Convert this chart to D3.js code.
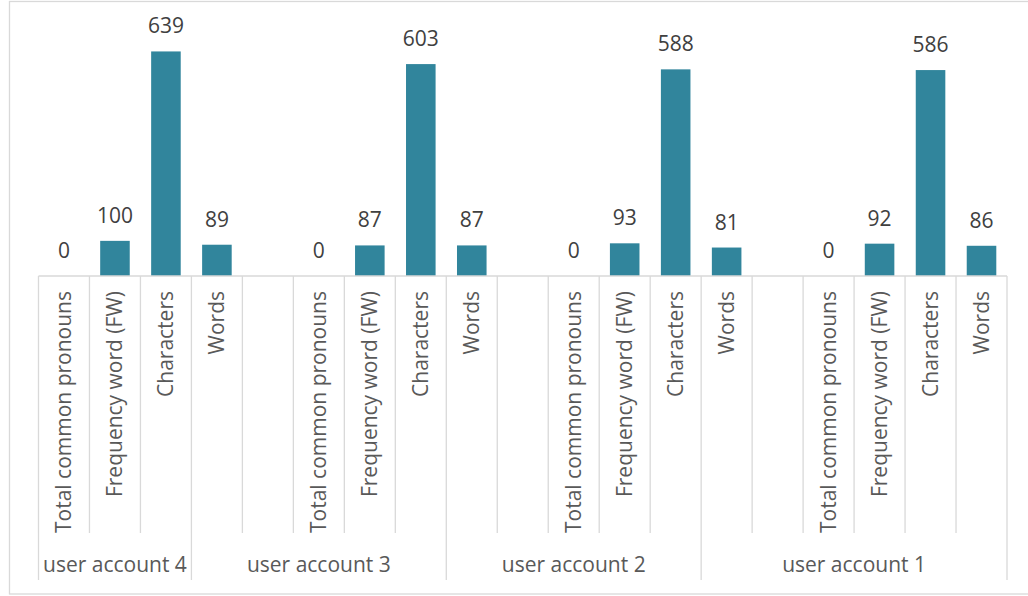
<!DOCTYPE html>
<html>
<head>
<meta charset="utf-8">
<script src="https://cdn.jsdelivr.net/npm/d3@7/dist/d3.min.js"></script>
<style>
  html, body { margin: 0; padding: 0; background: #ffffff; }
  svg { display: block; }
  text { font-family: "Open Sans", "DejaVu Sans", sans-serif; }
</style>
</head>
<body>
<svg id="chart" width="1028" height="596"></svg>
<script>
// Category rows: outer label (account) applies from its row until the next one
const outerLabels = [
  "user account 4", "", "",
  "user account 3", "", "", "", "",
  "user account 2", "", "", "", "",
  "user account 1", "", "", "", "", ""
];
const innerLabels = [
  "Total common pronouns", "Frequency word (FW)", "Characters",
  "Words", "", "Total common pronouns", "Frequency word (FW)", "Characters",
  "Words", "", "Total common pronouns", "Frequency word (FW)", "Characters",
  "Words", "", "Total common pronouns", "Frequency word (FW)", "Characters", "Words"
];
const values = [
  0, 100, 639,
  89, null, 0, 87, 603,
  87, null, 0, 93, 588,
  81, null, 0, 92, 586, 86
];
const yTicks = [0, 700];

const svg = d3.select("#chart");
const W = 1028, H = 596;
const plot = { left: 38.5, right: 1007, base: 276, top: 30 };
const tickBottom = 533, groupBottom = 580;
const gridColor = "#d9d9d9";
const barColor = "#31859c";
const fontSize = 21;

// chart frame
svg.append("rect")
  .attr("x", 9.5).attr("y", 1.5)
  .attr("width", W + 10).attr("height", 592.5)
  .attr("fill", "#fff").attr("stroke", gridColor).attr("stroke-width", 1.3);

const idx = d3.range(values.length);
const x = d3.scaleBand().domain(idx).range([plot.left, plot.right]).padding(0);
const y = d3.scaleLinear().domain(d3.extent(yTicks)).range([plot.base, plot.top]);

const slotEdge = i => plot.left + i * x.step();

// bars
const barW = x.bandwidth() * 0.58;
svg.append("g").selectAll("rect")
  .data(idx.filter(i => values[i] !== null))
  .join("rect")
  .attr("x", i => x(i) + (x.bandwidth() - barW) / 2)
  .attr("width", barW)
  .attr("y", i => y(values[i]))
  .attr("height", i => y(0) - y(values[i]))
  .attr("fill", barColor);

// value labels
svg.append("g").selectAll("text")
  .data(idx.filter(i => values[i] !== null))
  .join("text")
  .attr("x", i => x(i) + x.bandwidth() / 2)
  .attr("y", i => y(values[i]) - 18)
  .attr("text-anchor", "middle")
  .attr("font-size", fontSize)
  .attr("fill", "#404040")
  .text(i => values[i]);

// category axis line
svg.append("line")
  .attr("x1", plot.left).attr("x2", plot.right)
  .attr("y1", plot.base).attr("y2", plot.base)
  .attr("stroke", gridColor).attr("stroke-width", 1.5);

// inner tick lines at every slot boundary
svg.append("g").selectAll("line")
  .data(d3.range(values.length + 1))
  .join("line")
  .attr("x1", i => slotEdge(i)).attr("x2", i => slotEdge(i))
  .attr("y1", plot.base).attr("y2", tickBottom)
  .attr("stroke", gridColor).attr("stroke-width", 1.3);

// outer group boundaries
const groupStarts = idx.filter(i => outerLabels[i] !== "");
const groupEdges = groupStarts.concat([values.length]);
svg.append("g").selectAll("line")
  .data(groupEdges)
  .join("line")
  .attr("x1", i => slotEdge(i)).attr("x2", i => slotEdge(i))
  .attr("y1", tickBottom).attr("y2", groupBottom)
  .attr("stroke", gridColor).attr("stroke-width", 1.3);

// rotated inner category labels
svg.append("g").selectAll("text")
  .data(idx.filter(i => innerLabels[i] !== ""))
  .join("text")
  .attr("transform", i => `translate(${x(i) + x.bandwidth() / 2},291) rotate(-90)`)
  .attr("text-anchor", "end")
  .attr("dy", "0.35em")
  .attr("font-size", fontSize)
  .attr("fill", "#595959")
  .text(i => innerLabels[i]);

// group labels
svg.append("g").selectAll("text")
  .data(groupStarts.map((s, k) => ({ s, e: groupEdges[k + 1], label: outerLabels[s] })))
  .join("text")
  .attr("x", d => (slotEdge(d.s) + slotEdge(d.e)) / 2)
  .attr("y", 565)
  .attr("dy", "0.35em")
  .attr("text-anchor", "middle")
  .attr("font-size", fontSize)
  .attr("fill", "#595959")
  .text(d => d.label);
</script>
</body>
</html>
